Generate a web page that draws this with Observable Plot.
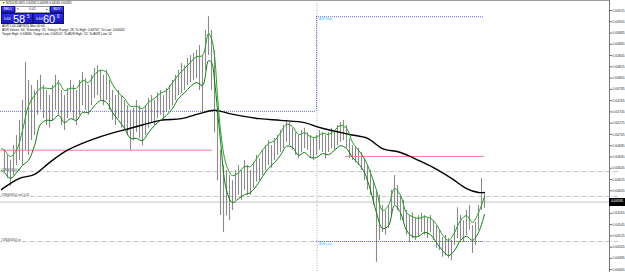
<!DOCTYPE html>
<html><head><meta charset="utf-8">
<script src="https://cdn.jsdelivr.net/npm/d3@7"></script>
<script src="https://cdn.jsdelivr.net/npm/@observablehq/plot@0.6"></script>
<style>
html,body{margin:0;padding:0;background:#fff;overflow:hidden}
#wrap{position:relative;width:625px;height:272px;font-family:Arial,"Liberation Sans",sans-serif;overflow:hidden}
#wrap svg{position:absolute;left:0;top:0}
.ov{position:absolute;box-sizing:border-box;color:#fff;white-space:nowrap;line-height:1}
.btn{background:linear-gradient(#4a4af0,#1c1cc0);font-size:3.4px;display:flex;align-items:center;justify-content:center;border:0.5px solid #10108a}
.lot{background:#fff;border:0.5px solid #9a9a9a;color:#222;font-size:3.4px;display:flex;align-items:center;justify-content:space-between;padding:0 1px}
.big{background:linear-gradient(#3030e0,#1818b8);border:0.5px solid #10108a;overflow:hidden}
.big .sm{position:absolute;left:2px;bottom:1.5px;font-size:3.4px}
.big .lg{position:absolute;font-size:11px;top:0px;line-height:1}
.big .sp{position:absolute;font-size:4.5px;top:0.5px}
.txt{color:#111;font-size:3.2px}
</style></head><body><div id="wrap"></div><script>
// ---- data (NZDUSD M15) ----
const highs = [
0.64677,0.64668,0.64659,0.64685,0.64703,0.64730,0.64765,0.64833,0.64801,0.64792,
0.64783,0.64801,0.64810,0.64792,0.64783,0.64774,0.64792,0.64810,0.64801,0.64783,
0.64774,0.64787,0.64801,0.64792,0.64783,0.64801,0.64815,0.64804,0.64792,0.64810,
0.64822,0.64827,0.64819,0.64810,0.64819,0.64801,0.64783,0.64774,0.64783,0.64774,
0.64765,0.64756,0.64748,0.64751,0.64765,0.64756,0.64748,0.64756,0.64769,0.64774,
0.64765,0.64779,0.64783,0.64774,0.64787,0.64792,0.64801,0.64810,0.64819,0.64831,
0.64827,0.64840,0.64845,0.64849,0.64854,0.64863,0.64845,0.64890,0.64914,0.64890,
0.64854,0.64748,0.64677,0.64650,0.64641,0.64632,0.64623,0.64641,0.64650,0.64641,
0.64659,0.64650,0.64641,0.64655,0.64668,0.64662,0.64677,0.64685,0.64694,0.64685,
0.64698,0.64703,0.64712,0.64721,0.64730,0.64726,0.64716,0.64708,0.64703,0.64712,
0.64716,0.64708,0.64703,0.64698,0.64703,0.64712,0.64708,0.64703,0.64708,0.64716,
0.64712,0.64721,0.64726,0.64730,0.64721,0.64698,0.64685,0.64682,0.64680,0.64673,
0.64662,0.64650,0.64641,0.64623,0.64606,0.64597,0.64579,0.64570,0.64579,0.64606,
0.64632,0.64614,0.64597,0.64588,0.64570,0.64561,0.64566,0.64556,0.64561,0.64565,
0.64561,0.64556,0.64561,0.64552,0.64543,0.64535,0.64522,0.64526,0.64520,0.64517,
0.64543,0.64575,0.64561,0.64552,0.64570,0.64579,0.64543,0.64549,0.64579,0.64627,
0.64600];
const lows = [
0.64637,0.64627,0.64613,0.64632,0.64650,0.64659,0.64650,0.64677,0.64668,0.64694,
0.64703,0.64739,0.64748,0.64733,0.64721,0.64716,0.64730,0.64748,0.64739,0.64721,
0.64712,0.64733,0.64744,0.64730,0.64721,0.64739,0.64756,0.64748,0.64739,0.64756,
0.64769,0.64774,0.64765,0.64756,0.64765,0.64748,0.64730,0.64721,0.64733,0.64716,
0.64712,0.64703,0.64677,0.64694,0.64708,0.64698,0.64685,0.64703,0.64716,0.64726,
0.64721,0.64733,0.64739,0.64730,0.64744,0.64748,0.64756,0.64765,0.64774,0.64778,
0.64783,0.64792,0.64797,0.64801,0.64804,0.64783,0.64744,0.64819,0.64845,0.64783,
0.64708,0.64623,0.64561,0.64531,0.64561,0.64552,0.64570,0.64588,0.64597,0.64588,
0.64606,0.64597,0.64597,0.64609,0.64620,0.64623,0.64632,0.64641,0.64650,0.64645,
0.64659,0.64668,0.64673,0.64680,0.64691,0.64685,0.64677,0.64668,0.64662,0.64673,
0.64680,0.64677,0.64662,0.64659,0.64668,0.64677,0.64673,0.64662,0.64673,0.64680,
0.64677,0.64685,0.64691,0.64694,0.64680,0.64662,0.64659,0.64655,0.64650,0.64641,
0.64623,0.64606,0.64597,0.64579,0.64478,0.64517,0.64531,0.64526,0.64538,0.64561,
0.64579,0.64570,0.64552,0.64549,0.64526,0.64513,0.64520,0.64517,0.64524,0.64531,
0.64526,0.64520,0.64531,0.64517,0.64503,0.64499,0.64487,0.64490,0.64485,0.64481,
0.64508,0.64520,0.64517,0.64513,0.64526,0.64535,0.64494,0.64508,0.64535,0.64570,
0.64574];
// green band (MA of highs / MA of lows), sampled at bar indices
const gIdx = [-1,0,2,4,6,8,10,12,14,16,18,20,22,24,26,28,30,32,34,36,38,40,42,44,46,48,50,52,54,56,58,60,62,64,66,68,69,70,71,72,74,76,78,80,82,84,86,88,90,92,94,96,98,100,102,104,106,108,110,112,114,116,118,120,122,124,126,128,130,132,134,136,138,140,142,144,146,148,150,152,154,156,158,160];
const gUpper = [0.64680,0.64677,0.64666,0.64677,0.64712,0.64756,0.64774,0.64787,0.64787,0.64787,0.64797,0.64783,0.64787,0.64787,0.64801,0.64797,0.64811,0.64819,0.64815,0.64794,0.64779,0.64769,0.64755,0.64755,0.64751,0.64762,0.64769,0.64778,0.64783,0.64797,0.64811,0.64822,0.64833,0.64843,0.64845,0.64884,0.64875,0.64845,0.64774,0.64712,0.64650,0.64632,0.64637,0.64648,0.64648,0.64662,0.64677,0.64689,0.64694,0.64708,0.64723,0.64719,0.64705,0.64708,0.64701,0.64700,0.64707,0.64705,0.64712,0.64721,0.64716,0.64691,0.64677,0.64662,0.64637,0.64606,0.64570,0.64579,0.64609,0.64597,0.64566,0.64559,0.64556,0.64559,0.64556,0.64545,0.64527,0.64517,0.64531,0.64552,0.64561,0.64549,0.64566,0.64595];
const gLower = [0.64641,0.64637,0.64627,0.64637,0.64650,0.64659,0.64685,0.64723,0.64730,0.64730,0.64739,0.64726,0.64733,0.64730,0.64744,0.64744,0.64756,0.64765,0.64762,0.64744,0.64730,0.64716,0.64698,0.64698,0.64694,0.64708,0.64721,0.64730,0.64739,0.64751,0.64769,0.64779,0.64790,0.64797,0.64792,0.64836,0.64833,0.64801,0.64748,0.64694,0.64606,0.64584,0.64591,0.64598,0.64602,0.64614,0.64630,0.64645,0.64655,0.64668,0.64684,0.64682,0.64668,0.64673,0.64664,0.64664,0.64671,0.64669,0.64677,0.64685,0.64680,0.64664,0.64653,0.64637,0.64606,0.64566,0.64538,0.64543,0.64579,0.64566,0.64535,0.64524,0.64524,0.64531,0.64527,0.64513,0.64499,0.64490,0.64499,0.64517,0.64524,0.64517,0.64531,0.64563];
// long moving average (black)
const maIdx = [-1,0,5,10,15,21,32,42,52,59,65,70,75,85,92,100,104,109,115,121,126,132,138,143,149,154,158,160];
const maVals = [0.64607,0.64611,0.64627,0.64634,0.64655,0.64677,0.64701,0.64716,0.64730,0.64733,0.64742,0.64748,0.64742,0.64733,0.64730,0.64726,0.64719,0.64712,0.64705,0.64698,0.64680,0.64673,0.64659,0.64646,0.64627,0.64609,0.64602,0.64602];
// price axis labels
const yTicks = [0.64925,0.64905,0.64885,0.64865,0.64845,0.64825,0.64805,0.64785,0.64765,0.64745,0.64725,0.64705,0.64685,0.64665,0.64645,0.64625,0.64605,0.64565,0.64545,0.64525,0.64505,0.64485,0.64465];
const bid = 0.64585, ask = 0.64600;
const ohlc = ["0.64592","0.64598","0.64580","0.64585"];
// levels: [price, fromBar, toBar]
const pinkLevels = [[0.64677,-2,69.3],[0.64666,113.7,160]];
const adrLevels = [[0.64914,104,160],[0.64746,-2,104],[0.64515,104,160]];
const adrStep = [104,0.64914,0.64746];
const sessionBreak = [104.2];
const orderLevels = [[0.64639,"#28063454 sl"],[0.64595,"#28063454 sell 0.01"],[0.64515,"#28063454 tp"]];
const adrLabels = [[0.64914,"ADR High"],[0.64515,"ADR Low"]];
const infoLines = [
 "ADR 5.00 DAYS(5) Max 00:00",
 "ADR Values: 64, Yesterday: 55, Today's Range: 28, To High: 0.64747, To Low: 0.64643",
 "Target High: 0.64846, Target Low: 0.64507, To ADR High: 52, To ADR Low: 52"];

// ---- chart ----
const bars = highs.map((h,i)=>({i, h, l: lows[i]}));
const band = gIdx.map((i,k)=>({i, u: gUpper[k], lo: gLower[k]}));
const ma = maIdx.map((i,k)=>({i, v: maVals[k]}));
const yDomain = [0.6445995, 0.6494275];

const chart = Plot.plot({
  width: 625, height: 272,
  marginLeft: 0, marginRight: 16, marginTop: 0, marginBottom: 0,
  x: {domain: [-4/3, 605/3], axis: null},
  y: {domain: yDomain, axis: null},
  style: {background: "#fff", fontFamily: "Arial, 'Liberation Sans', sans-serif", overflow: "visible"},
  marks: [
    Plot.ruleX(sessionBreak, {x: d=>d, stroke: "#9a9a9a", strokeDasharray: "1,1.5", strokeWidth: 0.8}),
    Plot.ruleY(orderLevels, {y: d=>d[0], x1: -2, x2: 205, stroke: "#b0b0b0", strokeWidth: 0.8, strokeDasharray: "4,1.5,1,1.5"}),
    Plot.text(orderLevels, {x: -1.2, y: d=>d[0], text: d=>d[1], dy: -1.8, textAnchor: "start", fontSize: 3.2, fill: "#444"}),
    Plot.ruleY([bid], {x1: -2, x2: 205, stroke: "#c4c4c4", strokeWidth: 1}),
    Plot.ruleX(bars, {x: "i", y1: "l", y2: "h", stroke: "#8a8a8a", strokeWidth: 1.1}),
    Plot.ruleY(pinkLevels, {y: d=>d[0], x1: d=>d[1], x2: d=>d[2], stroke: "#f07c96", strokeWidth: 1}),
    Plot.ruleY(adrLevels, {y: d=>d[0], x1: d=>d[1], x2: d=>d[2], stroke: "#5a5aff", strokeWidth: 0.9, strokeDasharray: "1,1"}),
    Plot.ruleX([adrStep], {x: d=>d[0], y1: d=>d[1], y2: d=>d[2], stroke: "#5a5aff", strokeWidth: 0.9, strokeDasharray: "1,1"}),
    Plot.text(adrLabels, {x: 104.8, y: d=>d[0], text: d=>d[1], dy: 2.6, textAnchor: "start", fontSize: 3, fill: "#33ccee"}),
    Plot.line(ma, {x: "i", y: "v", stroke: "#000", strokeWidth: 1.4, curve: "catmull-rom"}),
    Plot.line(band, {x: "i", y: "lo", stroke: "#0c7d0c", strokeWidth: 1, curve: "catmull-rom"}),
    Plot.line(band, {x: "i", y: "u", stroke: "#22a022", strokeWidth: 1, curve: "catmull-rom"}),
    Plot.axisY({anchor: "right", ticks: yTicks, tickSize: 2, tickPadding: 1, fontSize: 3.4, stroke: "#666", fill: "#333", tickFormat: d=>d.toFixed(5)})
  ]
});
const wrap = document.getElementById("wrap");
wrap.appendChild(chart);
const ys = chart.scale("y");
const by = ys.apply(bid);

const html = `
<div class="ov" style="left:0;top:0;width:609px;height:1px;background:#9c9c9c"></div>
<div class="ov" style="left:609px;top:0;width:1px;height:272px;background:#777"></div>
<div class="ov" style="left:609px;top:${by-4}px;width:16px;height:8px;background:#000;font-size:3.4px;display:flex;align-items:center;padding-left:2px">${bid.toFixed(5)}</div>
<div class="ov txt" style="left:2px;top:2px;font-size:3px">&#9660; NZDUSD,M15  ${ohlc.join(" ")}</div>
<div class="ov btn" style="left:1px;top:6px;width:14px;height:7px">SELL</div>
<div class="ov lot" style="left:15px;top:6px;width:35px;height:7px"><span>&#9662;</span><span>0.01</span><span>&#9652;</span></div>
<div class="ov btn" style="left:50px;top:6px;width:14px;height:7px">BUY</div>
<div class="ov big" style="left:1px;top:13px;width:32px;height:10.5px"><span class="sm">0.64</span><span class="lg" style="left:11px">${bid.toFixed(5).slice(4,6)}</span><span class="sp" style="left:25px">${bid.toFixed(5).slice(6)}</span></div>
<div class="ov big" style="left:33px;top:13px;width:31px;height:10.5px"><span class="sm">0.64</span><span class="lg" style="left:9px">${ask.toFixed(5).slice(4,6)}</span><span class="sp" style="left:23px">${ask.toFixed(5).slice(6)}</span></div>
<div class="ov txt" style="left:2px;top:24.5px">${infoLines[0]}</div>
<div class="ov txt" style="left:2px;top:28.7px">${infoLines[1]}</div>
<div class="ov txt" style="left:2px;top:32.9px">${infoLines[2]}</div>`;
wrap.insertAdjacentHTML("beforeend", html);
</script></body></html>
